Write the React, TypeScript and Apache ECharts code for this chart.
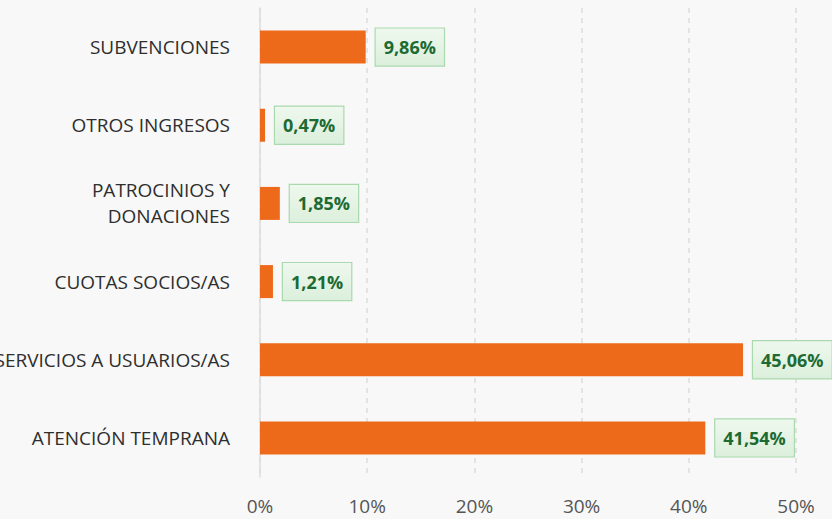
import React, { useEffect, useRef } from "react";
import * as echarts from "echarts";

const categories = [
  "SUBVENCIONES",
  "OTROS INGRESOS",
  "PATROCINIOS Y\nDONACIONES",
  "CUOTAS SOCIOS/AS",
  "SERVICIOS A USUARIOS/AS",
  "ATENCIÓN TEMPRANA",
];
const values = [9.86, 0.47, 1.85, 1.21, 45.06, 41.54];
const xTicks = [0, 10, 20, 30, 40, 50];

const fmt = (v: number) => v.toFixed(2).replace(".", ",") + "%";

export default function App() {
  const ref = useRef<HTMLDivElement>(null);
  useEffect(() => {
    if (!ref.current) return;
    const chart = echarts.init(ref.current, null, { renderer: "svg" });
    chart.setOption({
      animation: false,
      backgroundColor: "#f8f8f8",
      grid: {
        left: 260,
        right: 36,
        top: 8,
        bottom: 42,
        containLabel: false,
        outerBoundsMode: "none",
      },
      xAxis: {
        type: "value",
        min: xTicks[0],
        max: xTicks[xTicks.length - 1],
        interval: 10,
        axisLine: { show: false },
        axisTick: { show: false },
        axisLabel: {
          formatter: (v: number) => v + "%",
          color: "#555",
          fontSize: 19,
          fontFamily: "Open Sans",
          margin: 19,
        },
        splitLine: { show: true, lineStyle: { color: "#dcdcdc", type: [5, 5], width: 1.5 } },
      },
      yAxis: {
        type: "category",
        data: categories,
        inverse: true,
        axisLine: { show: true, lineStyle: { color: "#dddddd", width: 1.5 } },
        axisTick: { show: false },
        axisLabel: {
          color: "#2e2e2e",
          fontSize: 19,
          fontFamily: "Open Sans",
          margin: 30,
          lineHeight: 26,
          align: "right",
        },
      },
      series: [
        {
          type: "bar",
          data: values,
          barWidth: 33,
          itemStyle: { color: "#EE6A1B" },
          label: {
            show: true,
            position: "right",
            distance: 10,
            formatter: (p: any) => fmt(p.value),
            color: "#1d6a32",
            fontWeight: "bold",
            fontSize: 18,
            fontFamily: "Open Sans",
            padding: [10, 8, 9, 8],
            borderColor: "#a9d9ad",
            borderWidth: 1.2,
            backgroundColor: {
              type: "linear",
              x: 0,
              y: 0,
              x2: 0,
              y2: 1,
              colorStops: [
                { offset: 0, color: "#eef8ee" },
                { offset: 1, color: "#dcefdc" },
              ],
            },
          },
        },
      ],
    });
    return () => chart.dispose();
  }, []);
  return (
    <div
      ref={ref}
      style={{ position: "absolute", left: 0, top: 0, width: 832, height: 519 }}
    />
  );
}
